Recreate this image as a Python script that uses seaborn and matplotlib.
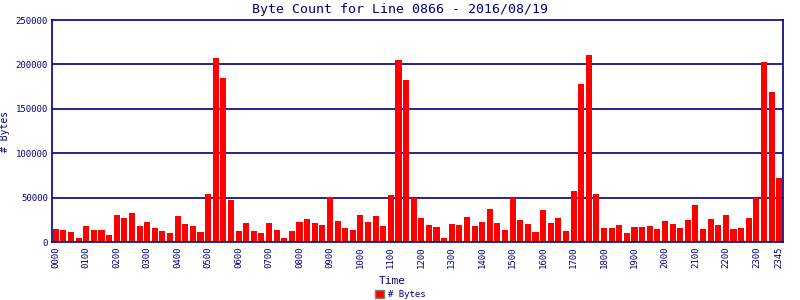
import matplotlib
matplotlib.use("Agg")
import matplotlib.pyplot as plt
import matplotlib.patches as mpatches
import seaborn as sns
import pandas as pd

times = [f"{h:02d}{m:02d}" for h in range(24) for m in (0, 15, 30, 45)]
byte_counts = [
    14700, 13500, 11300, 4500, 18000, 13500, 13500, 7900,
    30500, 27000, 32700, 18000, 22600, 15800, 12400, 10200,
    29300, 20300, 18000, 11300, 54000, 207000, 184600, 47400,
    12400, 21400, 12400, 10200, 21400, 13500, 4500, 12400,
    22600, 26000, 21400, 19200, 50800, 23700, 15800, 13500,
    30500, 22600, 29300, 18000, 53000, 204900, 182400, 49600,
    27000, 19200, 16900, 4500, 20300, 19200, 28200, 18000,
    22600, 37200, 21400, 13500, 49600, 24800, 20300, 11300,
    36000, 21400, 27000, 12400, 57500, 177900, 210500, 54000,
    15800, 15800, 19200, 10200, 16900, 16900, 18000, 14700,
    23700, 20300, 15800, 24800, 41700, 14700, 26000, 19200,
    30500, 14700, 15800, 27000, 49600, 202700, 169000, 72000,
]
tick_labels = [f"{h:02d}00" for h in range(24)] + ["2345"]
y_ticks = [0, 50000, 100000, 150000, 200000, 250000]

navy = "#000080"
df = pd.DataFrame({"Time": times, "Bytes": byte_counts})

sns.set_style("white")
plt.rcParams["font.family"] = ["DejaVu Sans Mono", "DejaVu Sans"]

fig = plt.figure(figsize=(8, 3), dpi=100)
ax = fig.add_axes([52 / 800, 1 - 242 / 300, (783 - 52) / 800, (242 - 20) / 300])

sns.barplot(data=df, x="Time", y="Bytes", order=times, color="#ff0000",
            saturation=1, width=0.8, ax=ax, edgecolor="none")

ax.set_xlim(-0.5, len(times) - 0.5)
ax.set_ylim(0, 250000)
ax.set_yticks(y_ticks)
ax.set_yticklabels([str(v) for v in y_ticks], fontsize=6.5, color=navy)
pos = [times.index(t) for t in tick_labels]
ax.set_xticks(pos)
ax.set_xticklabels(tick_labels, rotation=90, fontsize=6.5, color=navy)
ax.tick_params(axis="both", length=0, pad=3)
for y in y_ticks[1:-1]:
    ax.axhline(y, color=navy, lw=1.2, zorder=0)
for s in ax.spines.values():
    s.set_color(navy)
    s.set_linewidth(1.2)

ax.set_xlabel("Time", fontsize=8, color=navy)
ax.xaxis.set_label_coords(0.465, -0.155)
ax.set_ylabel("# Bytes", fontsize=7, color=navy)
ax.yaxis.set_label_coords(-0.058, 0.5)
fig.suptitle("Byte Count for Line 0866 - 2016/08/19", fontsize=9.5, color=navy, y=0.99)

handle = mpatches.Patch(facecolor="#ff0000", edgecolor="#808080", label="# Bytes")
fig.legend(handles=[handle], loc="lower center", bbox_to_anchor=(0.5, -0.025),
           frameon=False, fontsize=6.5, handlelength=1.0, handleheight=1.0,
           handletextpad=0.4, labelcolor=navy)

fig.savefig("out.png", dpi=100)
